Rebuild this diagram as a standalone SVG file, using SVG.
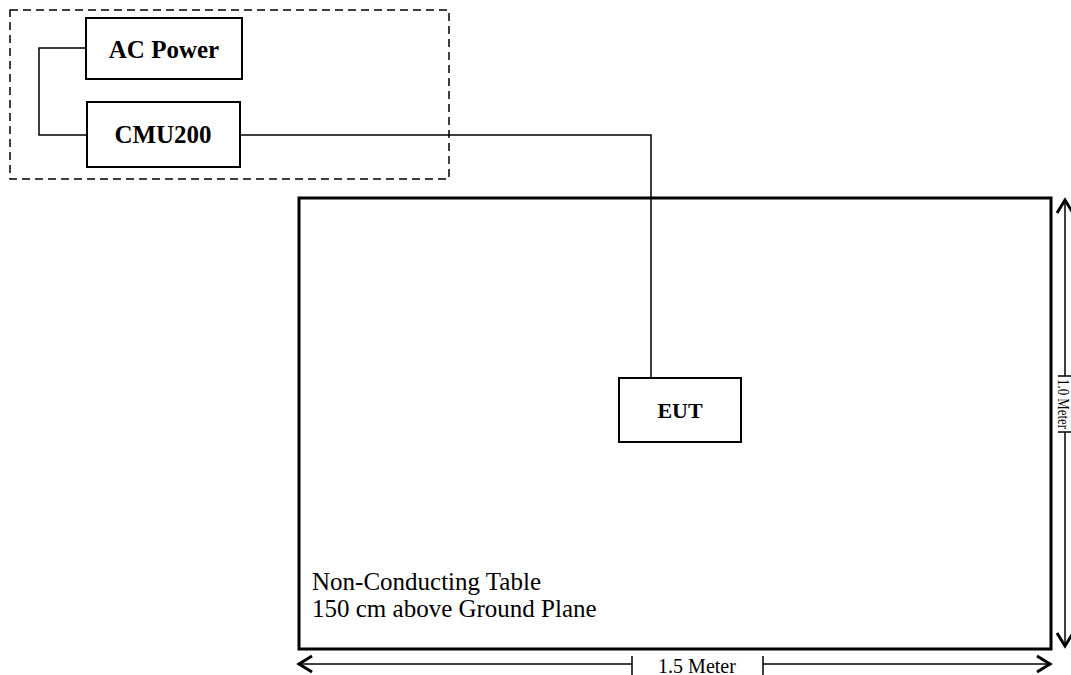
<svg xmlns="http://www.w3.org/2000/svg" width="1071" height="675" viewBox="0 0 1071 675">
<style>
.box{fill:#fff;stroke:#000;stroke-width:2}
.lbl{font-family:"Liberation Serif",serif;font-weight:bold;fill:#000;text-anchor:middle}
.txt{font-family:"Liberation Serif",serif;fill:#000}
.wire{fill:none;stroke:#000;stroke-width:1.5}
.dim{fill:none;stroke:#000;stroke-width:1.5}
.head{fill:none;stroke:#000;stroke-width:3}
</style>
<rect x="10" y="10" width="439" height="169" fill="none" stroke="#000" stroke-width="1.5" stroke-dasharray="8,5"/>
<g id="table">
<rect x="299" y="198" width="752" height="451" fill="#fff" stroke="#000" stroke-width="3"/>
<text class="txt" x="312" y="590" font-size="25">Non-Conducting Table</text>
<text class="txt" x="312" y="617" font-size="25">150 cm above Ground Plane</text>
</g>
<g id="connectors">
<polyline class="wire" points="86,48 39,48 39,135 87,135"/>
<polyline class="wire" points="237,135 651,135 651,378"/>
</g>
<g id="ac-power">
<rect class="box" x="86" y="18" width="156" height="61"/>
<text class="lbl" x="164" y="58" font-size="25">AC Power</text>
</g>
<g id="cmu200">
<rect class="box" x="87" y="102" width="153" height="65"/>
<text class="lbl" x="163" y="143" font-size="25">CMU200</text>
</g>
<g id="eut">
<rect class="box" x="619" y="378" width="122" height="64"/>
<text class="lbl" x="680" y="418" font-size="22">EUT</text>
</g>
<g id="dim-h">
<line class="dim" x1="298" y1="664" x2="632" y2="664"/>
<line class="dim" x1="763" y1="664" x2="1051" y2="664"/>
<line class="dim" x1="632" y1="656" x2="632" y2="675"/>
<line class="dim" x1="763" y1="656" x2="763" y2="675"/>
<polyline class="head" points="312,656 299,664 312,672"/>
<polyline class="head" points="1037,656 1050,664 1037,672"/>
<text class="txt" x="697" y="673" font-size="20" text-anchor="middle">1.5 Meter</text>
</g>
<g id="dim-v">
<line class="dim" x1="1065" y1="199" x2="1065" y2="376"/>
<line class="dim" x1="1065" y1="432" x2="1065" y2="647"/>
<line class="dim" x1="1058" y1="376" x2="1071" y2="376"/>
<line class="dim" x1="1058" y1="432" x2="1071" y2="432"/>
<polyline class="head" points="1057,213 1065,200 1073,213"/>
<polyline class="head" points="1057,633 1065,646 1073,633"/>
<text class="txt" transform="translate(1058,404) rotate(90)" font-size="16" text-anchor="middle" textLength="50" lengthAdjust="spacingAndGlyphs">1.0 Meter</text>
</g>
</svg>
